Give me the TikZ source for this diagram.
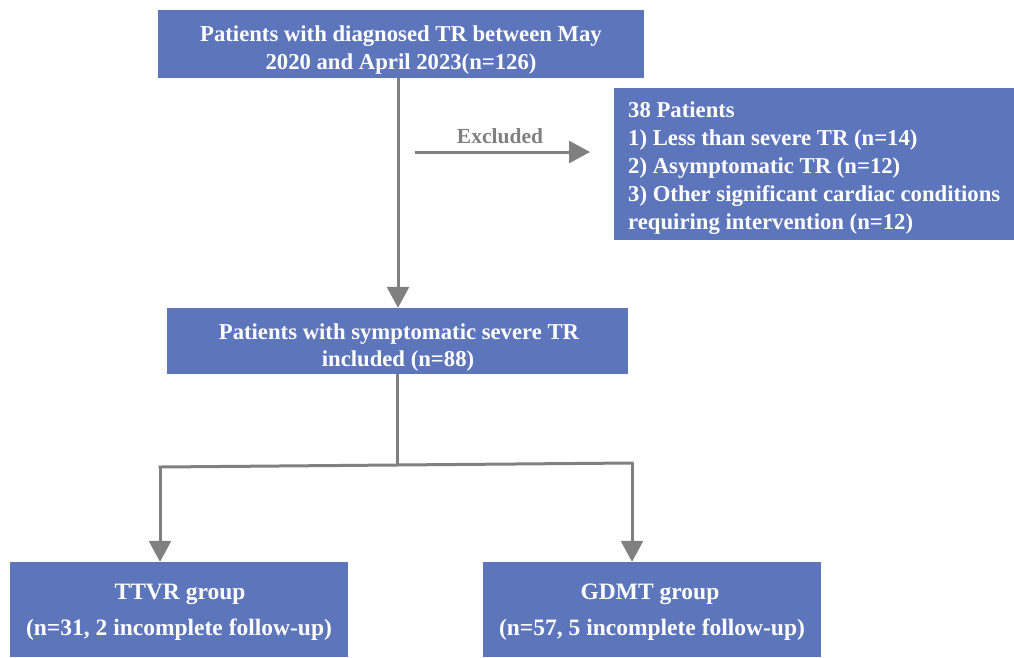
\documentclass[tikz,border=0pt]{standalone}
\usepackage{fontspec}
\setmainfont{Liberation Serif}
\usetikzlibrary{arrows.meta}
\definecolor{boxblue}{RGB}{93,117,187}
\definecolor{arrgray}{RGB}{128,128,128}
\begin{document}
\begin{tikzpicture}[x=1pt,y=-1pt,
  bluebox/.style={fill=boxblue,draw=none,inner sep=0pt},
  btxt/.style={text=white,font=\bfseries\fontsize{22.7}{28}\selectfont,inner sep=0pt,anchor=base},
  ltxt/.style={btxt,anchor=base west},
  gtxt/.style={btxt,font=\bfseries\fontsize{23.5}{28}\selectfont},
  arr/.style={draw=arrgray,line width=3pt,-{Triangle[width=22pt,length=21pt]}},
  ln/.style={draw=arrgray,line width=3pt}]
\useasboundingbox (0,0) rectangle (1014,657);
% boxes
\node[bluebox,minimum width=486pt,minimum height=68pt] (top) at (401,44) {};
\node[bluebox,minimum width=400pt,minimum height=152pt] (excl) at (814,164) {};
\node[bluebox,minimum width=461pt,minimum height=66pt] (mid) at (397.5,341) {};
\node[bluebox,minimum width=338pt,minimum height=95pt] (ttvr) at (179,609.5) {};
\node[bluebox,minimum width=338pt,minimum height=95pt] (gdmt) at (652,609.5) {};
% texts
\node[btxt] (top1) at (401,41) {Patients with diagnosed TR between May};
\node[btxt] (top2) at (401,69) {2020 and April 2023(n=126)};
\node[ltxt] (ex1) at (628,117) {38 Patients};
\node[ltxt] (ex2) at (628,145) {1) Less than severe TR (n=14)};
\node[ltxt] (ex3) at (628,173) {2) Asymptomatic TR (n=12)};
\node[ltxt] (ex4) at (628,201) {3) Other significant cardiac conditions};
\node[ltxt] (ex5) at (628,229) {requiring intervention (n=12)};
\node[btxt] (mid1) at (399,339) {Patients with symptomatic severe TR};
\node[btxt] (mid2) at (398,366) {included (n=88)};
\node[gtxt] (tt1) at (180,599) {TTVR group};
\node[gtxt] (tt2) at (179,635) {(n=31, 2 incomplete follow-up)};
\node[gtxt] (gd1) at (650,599) {GDMT group};
\node[gtxt] (gd2) at (652,635) {(n=57, 5 incomplete follow-up)};
% connectors
\coordinate (t1) at (398,78);
\draw[arr] (t1) -- (t1 |- mid.north);
\coordinate (e1) at (415,152);
\coordinate (e2) at (590,152);
\draw[arr] (e1) -- (e2);
\node[text=arrgray,font=\bfseries\fontsize{21.5}{24}\selectfont,inner sep=0pt,anchor=base] (exlab) at (500,143) {Excluded};
\coordinate (m1) at (397,374);
\coordinate (br) at (397,465);
\coordinate (bl) at (160,467);
\coordinate (brr) at (632,463);
\draw[ln] (m1) -- (br);
\draw[ln,line cap=rect] (bl) -- (brr);
\draw[arr] (bl) -- (bl |- ttvr.north);
\draw[arr] (brr) -- (brr |- gdmt.north);
\end{tikzpicture}
\end{document}
